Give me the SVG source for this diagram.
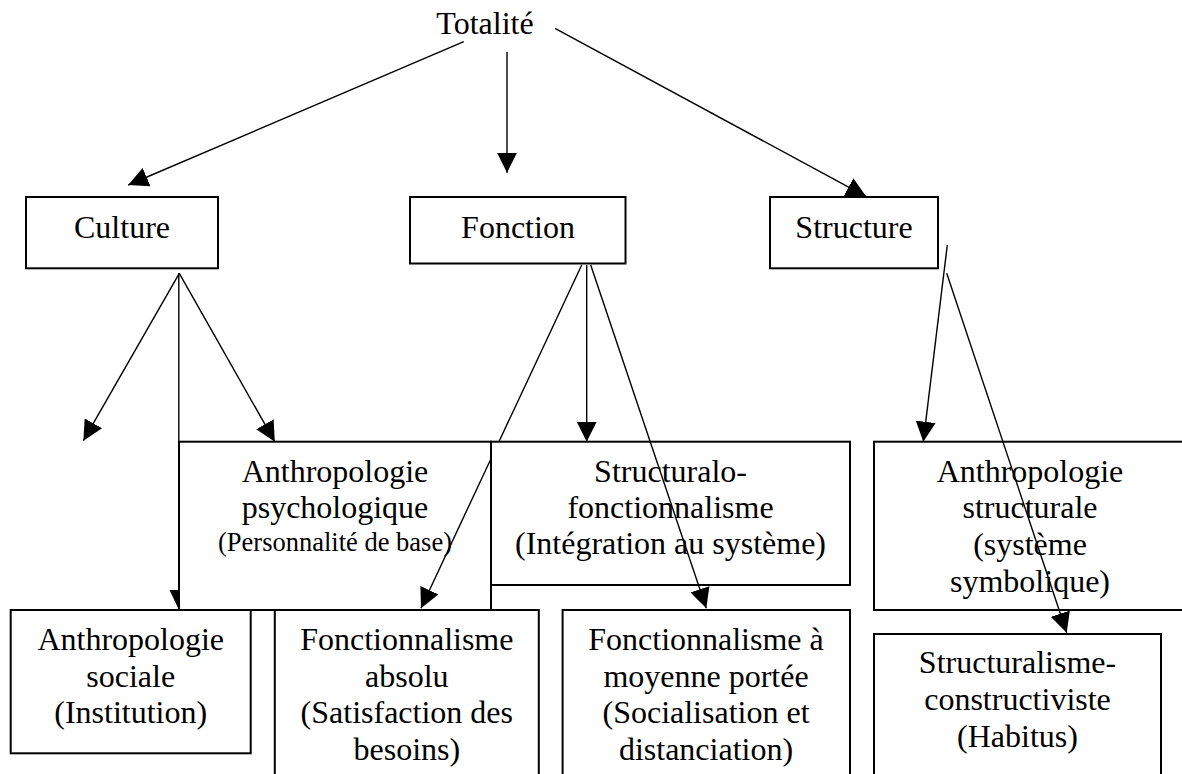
<svg xmlns="http://www.w3.org/2000/svg" width="1182" height="774" viewBox="0 0 1182 774">
<style>
.box{fill:#fff;stroke:#000;stroke-width:2}
.t{font-family:"Liberation Serif","Times New Roman",serif;font-size:32px;fill:#000;text-anchor:middle}
.s{font-size:26.5px}
.c{stroke:#000;stroke-width:1.4;fill:none}
.ah{fill:#000}
</style>
<defs>
<marker id="arr" markerUnits="userSpaceOnUse" markerWidth="20" markerHeight="20" refX="20" refY="10" orient="auto" viewBox="0 0 20 20">
<path d="M0,0 L20,10 L0,20 z" fill="#000"/>
</marker>
</defs>
<rect width="1182" height="774" fill="#fff"/>

<g id="node-totalite">
<text class="t" x="485" y="34">Totalité</text>
</g>
<g id="node-culture">
<rect class="box" x="26" y="197" width="192" height="71.3"/>
<text class="t" x="122" y="238.3">Culture</text>
</g>
<g id="node-fonction">
<rect class="box" x="410" y="197" width="215.5" height="66.5"/>
<text class="t" x="518" y="238.3">Fonction</text>
</g>
<g id="node-structure">
<rect class="box" x="770" y="197" width="168" height="71.3"/>
<text class="t" x="854" y="238.3">Structure</text>
</g>

<g id="node-anthropologie-psychologique">
<rect class="box" x="179" y="441.7" width="312" height="168.3"/>
<text class="t" x="335" y="481.7">Anthropologie</text>
<text class="t" x="335" y="518.3">psychologique</text>
<text class="t s" x="335" y="551">(Personnalité de base)</text>
</g>
<g id="node-structuralo-fonctionnalisme">
<rect class="box" x="491" y="441.7" width="359" height="143.3"/>
<text class="t" x="670.5" y="481.7">Structuralo-</text>
<text class="t" x="670.5" y="518.3">fonctionnalisme</text>
<text class="t" x="670.5" y="554">(Intégration au système)</text>
</g>
<g id="node-anthropologie-structurale">
<rect class="box" x="874" y="441.7" width="312" height="168.3"/>
<text class="t" x="1030" y="481.7">Anthropologie</text>
<text class="t" x="1030" y="518.3">structurale</text>
<text class="t" x="1030" y="555">(système</text>
<text class="t" x="1030" y="591.7">symbolique)</text>
</g>

<g id="node-anthropologie-sociale">
<rect class="box" x="10.7" y="610" width="240" height="143.3"/>
<text class="t" x="130.7" y="650">Anthropologie</text>
<text class="t" x="130.7" y="686.7">sociale</text>
<text class="t" x="130.7" y="723.3">(Institution)</text>
</g>
<g id="node-fonctionnalisme-absolu">
<rect class="box" x="274.8" y="610" width="264" height="180"/>
<text class="t" x="406.8" y="650">Fonctionnalisme</text>
<text class="t" x="406.8" y="686.7">absolu</text>
<text class="t" x="406.8" y="723.3">(Satisfaction des</text>
<text class="t" x="406.8" y="760">besoins)</text>
</g>
<g id="node-fonctionnalisme-moyenne-portee">
<rect class="box" x="562.6" y="610" width="287.4" height="180"/>
<text class="t" x="706" y="650">Fonctionnalisme à</text>
<text class="t" x="706" y="686.7">moyenne portée</text>
<text class="t" x="706" y="723.3">(Socialisation et</text>
<text class="t" x="706" y="760">distanciation)</text>
</g>
<g id="node-structuralisme-constructiviste">
<rect class="box" x="874" y="634" width="287" height="160"/>
<text class="t" x="1017.5" y="673.3">Structuralisme-</text>
<text class="t" x="1017.5" y="710">constructiviste</text>
<text class="t" x="1017.5" y="746.7">(Habitus)</text>
</g>

<g id="connectors">
<line class="c" x1="463.8" y1="41.7" x2="128.2" y2="185" marker-end="url(#arr)"/>
<line class="c" x1="507" y1="51.7" x2="507" y2="172.7" marker-end="url(#arr)"/>
<line class="c" x1="555" y1="28.3" x2="866.2" y2="196.6" marker-end="url(#arr)"/>
<line class="c" x1="179.3" y1="273.3" x2="83.4" y2="440.7" marker-end="url(#arr)"/>
<line class="c" x1="179.3" y1="273.3" x2="274.8" y2="441.7" marker-end="url(#arr)"/>
<line class="c" x1="178.8" y1="273.3" x2="178.8" y2="610"/>
<polygon class="ah" points="169.5,590 179,590 179,610"/>
<line class="c" x1="581.7" y1="265" x2="498.9" y2="441.7"/>
<line class="c" x1="491.2" y1="458.2" x2="421" y2="608.3" marker-end="url(#arr)"/>
<line class="c" x1="586.7" y1="265" x2="586.7" y2="441.7" marker-end="url(#arr)"/>
<line class="c" x1="590.7" y1="265" x2="706.3" y2="608.3" marker-end="url(#arr)"/>
<line class="c" x1="947.3" y1="245" x2="923.3" y2="441.7" marker-end="url(#arr)"/>
<line class="c" x1="946.7" y1="273.3" x2="1066.7" y2="632.7" marker-end="url(#arr)"/>
</g>
</svg>
